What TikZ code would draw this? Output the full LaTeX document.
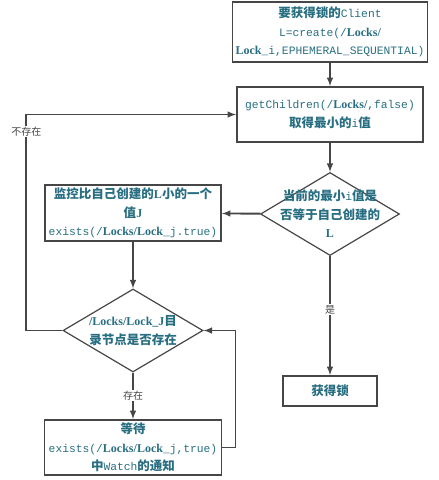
\documentclass[tikz,border=0pt]{standalone}
\usepackage{fontspec}
\setmainfont{Liberation Serif}
\setmonofont{Liberation Mono}
\newfontfamily\cjk{Noto Sans CJK SC}
\usetikzlibrary{shapes.geometric, arrows.meta, positioning}
\definecolor{txtc}{RGB}{40,110,130}
\definecolor{linec}{RGB}{70,70,70}
\newcommand\cd[1]{{\ttfamily\mdseries\fontsize{11.3}{18.5}\selectfont #1}}
\newcommand\lk[1]{{\rmfamily\bfseries\fontsize{12}{18.5}\selectfont #1}}
\tikzset{
  flowbox/.style={draw=linec, line width=1.9pt, rectangle, align=center, text=txtc,
    inner sep=1pt, font=\cjk\bfseries\fontsize{12.5}{18.5}\selectfont},
  flowdia/.style={draw=linec, line width=1.2pt, diamond, inner sep=0pt, aspect=1.67},
  diatext/.style={align=center, text=txtc, font=\cjk\bfseries\fontsize{12.5}{18.5}\selectfont},
  flowlbl/.style={fill=white, text=linec, inner sep=1pt, font=\cjk\fontsize{10}{12}\selectfont},
  flowline/.style={draw=linec, line width=1.9pt}
}

\begin{document}
\begin{tikzpicture}[>=latex, x=1pt, y=-1pt]
\useasboundingbox (0,0) rectangle (439,480);
\node[flowbox, minimum width=195, minimum height=60] (client) at (330,32)
  {要获得锁的\cd{Client}\\ \cd{L=create(/}\lk{Locks/}\\ \lk{Lock}\cd{\_i,EPHEMERAL\_SEQUENTIAL)}};
\node[flowbox, minimum width=186, minimum height=55] (child) at (330,114.5)
  {\cd{getChildren(/}\lk{Locks/}\cd{,false)}\\ 取得最小的\cd{i}值};
\node[flowdia, minimum width=139, minimum height=83,
  label={[diatext]center:当前的最小\cd{i}值是\\ 否等于自己创建的\\ \lk{L}}] (isMin) at (330,214) {};
\node[flowbox, minimum width=176, minimum height=56] (watchJ) at (133,213)
  {监控比自己创建的\lk{L}小的一个\\ 值\lk{J}\\ \cd{exists(/}\lk{Locks/Lock}\cd{\_j.true)}};
\node[flowdia, minimum width=140, minimum height=83,
  label={[diatext]center:\lk{/Locks/Lock\_J}目\\ 录节点是否存在}] (exist) at (133,330.5) {};
\node[flowbox, minimum width=177, minimum height=55] (wait) at (133,447.5)
  {等待\\ \cd{exists(/}\lk{Locks/Lock}\cd{\_j,true)}\\ 中\cd{Watch}的通知};
\node[flowbox, minimum width=94, minimum height=30] (lock) at (330,391) {获得锁};

\draw[flowline, ->] (client) -- (child);
\draw[flowline, ->] (child) -- (isMin);
\draw[flowline, ->] (isMin) -- (watchJ);
\draw[flowline, ->] (isMin) -- node[flowlbl, pos=0.45] {是} (lock);
\draw[flowline, ->] (watchJ) -- (exist);
\draw[flowline, ->] (exist) -- node[flowlbl] {存在} (wait);
\draw[flowline, ->] (wait.east) -- ++(13,0) |- (exist.east);
\draw[flowline, ->] (exist.west) -- ++(-36,0) |- node[flowlbl, pos=0.46] {不存在} (child.west);
\end{tikzpicture}
\end{document}
